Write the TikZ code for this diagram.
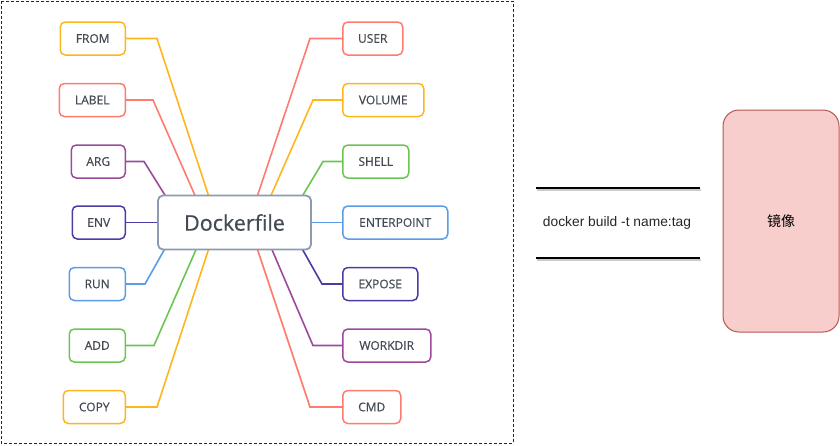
\documentclass[tikz,border=0pt]{standalone}
\usepackage{fontspec}
\setmainfont{Open Sans}
\newfontfamily\kwfont{Open Sans}[FakeBold=0.5]
\newfontfamily\arialf{Liberation Sans}
\newfontfamily\cjk{Noto Sans CJK SC}
\usetikzlibrary{calc}
\definecolor{cyel}{HTML}{FFB61E}
\definecolor{cred}{HTML}{FF7B6E}
\definecolor{cpur}{HTML}{9B4A9B}
\definecolor{cind}{HTML}{4B3BA3}
\definecolor{cblu}{HTML}{5C9BE8}
\definecolor{cgrn}{HTML}{6CC553}
\definecolor{ctxt}{HTML}{454B55}
\definecolor{cmain}{HTML}{8C9BB0}
\definecolor{pinkf}{HTML}{F8CECC}
\definecolor{pinkd}{HTML}{B85450}
\tikzset{
  kw/.style={draw=#1, line width=1.5pt, rounded corners=5pt, fill=white, text=ctxt,
    font=\kwfont\fontsize{12}{14}\selectfont, minimum height=33pt, inner sep=0pt},
  lk/.style={draw=#1, line width=1.6pt},
  mainbox/.style={draw=cmain, line width=1.8pt, rounded corners=5pt, fill=white, text=ctxt,
    font=\kwfont\fontsize{21.5}{24}\selectfont, minimum width=153pt, minimum height=54pt},
  sep/.style={line width=2pt, draw=black},
  sepshadow/.style={line width=2pt, draw=black!20},
}
\begin{document}
\begin{tikzpicture}[x=1pt,y=-1pt]
\useasboundingbox (0,0) rectangle (840,445);
\draw[dash pattern=on 3pt off 2pt, line width=0.9pt, black!85] (1,1) rectangle (513,443);
% left nodes (right edge at 126)
\node[kw=cyel, minimum width=65pt, anchor=east] (FROM) at (126,38.5) {FROM};
\node[kw=cred, minimum width=66pt, anchor=east] (LABEL) at (126,100) {LABEL};
\node[kw=cpur, minimum width=54pt, anchor=east] (ARG) at (126,161.5) {ARG};
\node[kw=cind, minimum width=53pt, anchor=east] (ENV) at (126,222.5) {ENV};
\node[kw=cblu, minimum width=56pt, anchor=east] (RUN) at (126,284) {RUN};
\node[kw=cgrn, minimum width=56pt, anchor=east] (ADD) at (126,345.5) {ADD};
\node[kw=cyel, minimum width=62pt, anchor=east] (COPY) at (126,407) {COPY};
% right nodes (left edge at 342)
\node[kw=cred, minimum width=60pt, anchor=west] (USER) at (342,38.5) {USER};
\node[kw=cyel, minimum width=81pt, anchor=west] (VOLUME) at (342,100) {VOLUME};
\node[kw=cgrn, minimum width=66pt, anchor=west] (SHELL) at (342,161.5) {SHELL};
\node[kw=cblu, minimum width=105pt, anchor=west] (ENTER) at (342,222.5) {ENTERPOINT};
\node[kw=cind, minimum width=75pt, anchor=west] (EXPOSE) at (342,284) {EXPOSE};
\node[kw=cpur, minimum width=88pt, anchor=west] (WORK) at (342,345.5) {WORKDIR};
\node[kw=cred, minimum width=58pt, anchor=west] (CMD) at (342,407) {CMD};
% central node position reference (drawn after connectors)
\coordinate (D) at (234.5,222.5);
% connectors left
\draw[lk=cyel] (FROM.east) -- (157,38.5) -- (210,200);
\draw[lk=cred] (LABEL.east) -- (153,100) -- (197,200);
\draw[lk=cpur] (ARG.east) -- (144,161.5) -- (168,200);
\draw[lk=cind] (ENV.east) -- (D);
\draw[lk=cblu] (RUN.east) -- (145,284) -- (167,245);
\draw[lk=cgrn] (ADD.east) -- (154,345.5) -- (198,245);
\draw[lk=cyel] (COPY.east) -- (157,407) -- (210,245);
% connectors right
\draw[lk=cred] (USER.west) -- (310,38.5) -- (256,200);
\draw[lk=cyel] (VOLUME.west) -- (313,100) -- (269,200);
\draw[lk=cgrn] (SHELL.west) -- (323,161.5) -- (300,200);
\draw[lk=cblu] (ENTER.west) -- (D);
\draw[lk=cind] (EXPOSE.west) -- (322,284) -- (300,245);
\draw[lk=cpur] (WORK.west) -- (313,345.5) -- (270,245);
\draw[lk=cred] (CMD.west) -- (310,407) -- (256,245);
% main box on top
\node[mainbox] (DF) at (D) {Dockerfile};
% right part
\coordinate (s1a) at (536,187.5);
\coordinate (s1b) at (700,187.5);
\coordinate (s2a) at (536,257.5);
\coordinate (s2b) at (700,257.5);
\draw[sepshadow] ($(s1a)+(1,2)$) -- ($(s1b)+(1,2)$);
\draw[sepshadow] ($(s2a)+(1,2)$) -- ($(s2b)+(1,2)$);
\draw[sep] (s1a) -- (s1b);
\draw[sep] (s2a) -- (s2b);
\node[font=\arialf\fontsize{13.8}{16}\selectfont, text=black!85] (cmd) at (617,223) {docker build -t name:tag};
\node[draw=pinkd, fill=pinkf, line width=1pt, rounded corners=16pt, minimum width=116pt, minimum height=222pt,
  font=\cjk\fontsize{14}{16}\selectfont] (img) at (781,221) {镜像};
\end{tikzpicture}
\end{document}
